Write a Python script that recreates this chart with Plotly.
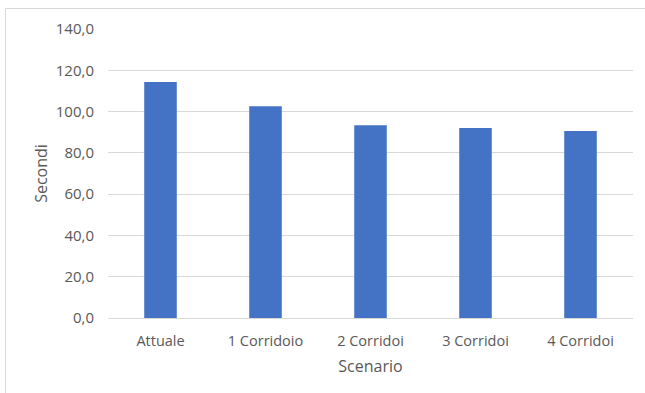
import plotly.graph_objects as go

categories = ["Attuale", "1 Corridoio", "2 Corridoi", "3 Corridoi", "4 Corridoi"]
seconds = [114.3, 102.6, 93.4, 92.0, 90.6]
y_ticks = [0, 20, 40, 60, 80, 100, 120, 140]

L, R, T, B = 108, 12, 29, 75
W, H = 645, 393
pw, ph = W - L - R, H - T - B

fig = go.Figure(go.Bar(
    x=categories, y=seconds,
    marker=dict(color="#4472C4", line=dict(width=0)),
    width=0.31,
))

font_family = "Open Sans, Noto Sans, sans-serif"
fig.update_layout(
    width=W, height=H,
    margin=dict(l=L, r=R, t=T, b=B, pad=0),
    paper_bgcolor="white", plot_bgcolor="white",
    separators=",.",
    showlegend=False,
    font=dict(family=font_family, size=14, color="#595959"),
    xaxis=dict(
        showgrid=False, showline=False, ticks="",
        ticklabelstandoff=12,
        tickfont=dict(size=14.5, color="#595959"),
        title=dict(text="Scenario", font=dict(size=16, color="#595959"), standoff=12),
        zeroline=False,
    ),
    yaxis=dict(
        range=[0, 140], tickvals=y_ticks, tickformat=".1f",
        showgrid=True, gridcolor="#d9d9d9", gridwidth=1,
        zeroline=True, zerolinecolor="#d9d9d9", zerolinewidth=1,
        showline=False, ticks="", ticklabelstandoff=13,
        tickfont=dict(size=15, color="#595959"),
        title=dict(text="Secondi", font=dict(size=16, color="#595959"), standoff=4),
    ),
    shapes=[
        dict(type="line", xref="paper", yref="paper",
             x0=(5.5 - L) / pw, x1=(W + 5 - L) / pw,
             y0=1 + (T - 8.5) / ph, y1=1 + (T - 8.5) / ph,
             line=dict(color="#d9d9d9", width=1)),
        dict(type="line", xref="paper", yref="paper",
             x0=(5.5 - L) / pw, x1=(5.5 - L) / pw,
             y0=1 + (T - 8.5) / ph, y1=-(B + 5) / ph,
             line=dict(color="#d9d9d9", width=1)),
    ],
)

fig.write_html("out.html")
